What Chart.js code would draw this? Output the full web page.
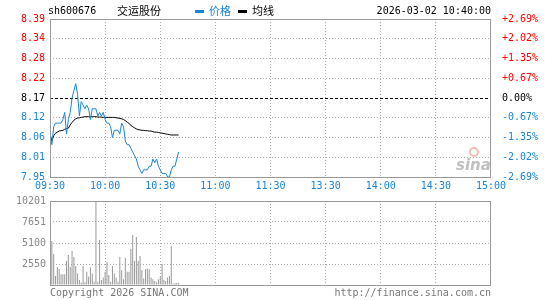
<!DOCTYPE html>
<html>
<head>
<meta charset="utf-8">
<script src="https://cdn.jsdelivr.net/npm/chart.js@4.4.1/dist/chart.umd.min.js"></script>
<style>
    html, body { margin: 0; padding: 0; background: #fff; }
    #wrap { position: relative; width: 545px; height: 300px; }
    #priceChart { position: absolute; left: 0; top: 0; }
    #volChart { position: absolute; left: 0; top: 190px; }
</style>
</head>
<body>
<div id="wrap">
    <canvas id="priceChart" width="545" height="195"></canvas>
    <canvas id="volChart" width="545" height="110"></canvas>
</div>
<script>
const prevClose = 8.17;
const timeTicks = [0, 30, 60, 90, 120, 150, 180, 210, 240];
const timeLabels = ['09:30', '10:00', '10:30', '11:00', '11:30', '13:30', '14:00', '14:30', '15:00'];
const priceTicks = [7.95, 8.005, 8.06, 8.115, 8.17, 8.225, 8.28, 8.335, 8.39];
const priceLabels = ['7.95', '8.01', '8.06', '8.12', '8.17', '8.22', '8.28', '8.34', '8.39'];
const pctLabels = ['-2.69%', '-2.02%', '-1.35%', '-0.67%', '0.00%', '+0.67%', '+1.35%', '+2.02%', '+2.69%'];
const volTicks = [0, 2550, 5100, 7651, 10201];
const volLabels = ['', '2550', '5100', '7651', '10201'];

// one value per minute from 09:30
const price = [
    8.07, 8.04, 8.09, 8.10, 8.10, 8.10, 8.10, 8.11, 8.13, 8.07,
    8.11, 8.13, 8.17, 8.19, 8.21, 8.18, 8.12, 8.16, 8.15, 8.14,
    8.15, 8.14, 8.11, 8.14, 8.14, 8.14, 8.12, 8.13, 8.12, 8.13,
    8.11, 8.10, 8.10, 8.09, 8.06, 8.08, 8.08, 8.08, 8.07, 8.10,
    8.09, 8.05, 8.04, 8.04, 8.03, 8.02, 8.01, 8.00, 7.98, 7.97,
    7.96, 7.97, 7.97, 7.97, 7.98, 7.98, 8.00, 7.99, 8.00, 7.98,
    7.97, 7.96, 7.96, 7.96, 7.95, 7.95, 7.97, 7.98, 7.98, 8.00,
    8.02
];
const avgPrice = [
    8.070, 8.050, 8.065, 8.072, 8.075, 8.078, 8.079, 8.080, 8.083, 8.085,
    8.086, 8.095, 8.102, 8.108, 8.112, 8.114, 8.115, 8.116, 8.117, 8.118,
    8.118, 8.118, 8.118, 8.118, 8.118, 8.118, 8.117, 8.117, 8.117, 8.116,
    8.116, 8.116, 8.116, 8.116, 8.116, 8.116, 8.115, 8.114, 8.113, 8.112,
    8.110, 8.107, 8.103, 8.099, 8.094, 8.090, 8.087, 8.084, 8.082, 8.081,
    8.080, 8.080, 8.079, 8.079, 8.078, 8.078, 8.076, 8.075, 8.075, 8.074,
    8.073, 8.072, 8.071, 8.070, 8.069, 8.068, 8.067, 8.067, 8.067, 8.067,
    8.067
];
const volume = [
    600, 5340, 3760, 1100, 2180, 1950, 1300, 1300, 1300, 2900,
    3640, 2180, 4130, 3400, 2300, 1400, 600, 300, 2300, 340,
    1600, 1000, 2150, 1400, 400, 10100, 400, 5460, 600, 900,
    1600, 2800, 1200, 400, 2300, 1400, 900, 400, 3400, 1800,
    700, 3280, 1600, 1600, 4370, 6070, 2900, 5830, 2900, 3520,
    1800, 800, 1900, 2000, 1900, 900, 700, 500, 340, 700,
    1000, 2550, 600, 500, 900, 1100, 4730, 150, 250, 250,
    250
];

const RED = '#ff0000';
const BLUE = '#1a84d4';
const GRAY = '#999';
const MONO = 'DejaVu Sans Mono';

function sideColor(i) {
    if (i > 4) return RED;
    if (i === 4) return '#000';
    return BLUE;
}

// plot frame, previous-close line and the header texts
const framePlugin = {
    id: 'frame',
    beforeDatasetsDraw(chart, args, opts) {
        if (!opts.midLine) return;
        const ctx = chart.ctx;
        const a = chart.chartArea;
        const y = Math.round(chart.scales.y.getPixelForValue(prevClose)) + 0.5;
        ctx.save();
        ctx.strokeStyle = '#000';
        ctx.lineWidth = 1;
        ctx.setLineDash([3, 2]);
        ctx.beginPath();
        ctx.moveTo(a.left, y);
        ctx.lineTo(a.right, y);
        ctx.stroke();
        ctx.restore();
    },
    afterDatasetsDraw(chart) {
        const ctx = chart.ctx;
        const a = chart.chartArea;
        ctx.save();
        ctx.strokeStyle = GRAY;
        ctx.lineWidth = 1;
        ctx.strokeRect(a.left + 0.5, a.top + 0.5, a.right - a.left - 1, a.bottom - a.top);
        ctx.restore();
    },
    afterDraw(chart, args, opts) {
        const ctx = chart.ctx;
        ctx.save();
        if (opts.header) {
            ctx.textBaseline = 'middle';
            ctx.font = '10px "' + MONO + '"';
            ctx.fillStyle = '#000';
            ctx.textAlign = 'left';
            ctx.fillText('sh600676', 48, 11);
            ctx.textAlign = 'right';
            ctx.fillText('2026-03-02 10:40:00', 491, 11);
            ctx.textAlign = 'left';
            ctx.font = '11px "Noto Sans CJK SC"';
            ctx.fillText('交运股份', 117, 11);
            ctx.fillStyle = BLUE;
            ctx.fillRect(195, 10, 9, 3);
            ctx.fillText('价格', 209, 11);
            ctx.fillStyle = '#000';
            ctx.fillRect(238, 10, 9, 3);
            ctx.fillText('均线', 252, 11);
            // sina watermark
            ctx.strokeStyle = 'rgba(235,120,120,0.5)';
            ctx.lineWidth = 2;
            ctx.beginPath();
            ctx.arc(474, 152, 4, 0, Math.PI * 2);
            ctx.stroke();
            ctx.font = 'italic bold 15px "DejaVu Sans"';
            ctx.fillStyle = 'rgba(150,150,150,0.6)';
            ctx.fillText('sina', 456, 166);
        }
        if (opts.footer) {
            ctx.textBaseline = 'middle';
            ctx.font = '10px "' + MONO + '"';
            ctx.fillStyle = '#777';
            ctx.textAlign = 'left';
            ctx.fillText('Copyright 2026 SINA.COM', 50, 103);
            ctx.textAlign = 'right';
            ctx.fillText('http://finance.sina.com.cn', 491, 103);
        }
        ctx.restore();
    }
};

const tickFont = { family: MONO, size: 10 };

const xScale = (showLabels) => ({
    type: 'linear',
    min: 0,
    max: 240,
    offset: false,
    afterBuildTicks: s => { s.ticks = timeTicks.map(v => ({ value: v })); },
    afterFit: s => { s.height = showLabels ? 18 : 0; },
    ticks: {
        display: showLabels,
        autoSkip: false,
        maxRotation: 0,
        padding: 3,
        color: BLUE,
        font: tickFont,
        callback: (v, i) => timeLabels[i]
    },
    grid: {
        offset: false,
        drawTicks: false,
        lineWidth: 1,
        color: c => (c.index === 0 || c.index === timeTicks.length - 1) ? 'rgba(0,0,0,0)' : '#aaa'
    },
    border: { display: false, dash: [1, 2] }
});

new Chart(document.getElementById('priceChart'), {
    type: 'line',
    data: {
        datasets: [{
            label: '价格',
            data: price.map((v, i) => ({ x: i, y: v })),
            borderColor: BLUE,
            borderWidth: 1,
            pointRadius: 0,
            tension: 0
        }, {
            label: '均线',
            data: avgPrice.map((v, i) => ({ x: i, y: v })),
            borderColor: '#000',
            borderWidth: 1,
            pointRadius: 0,
            tension: 0
        }]
    },
    options: {
        responsive: false,
        animation: false,
        layout: { padding: { top: 19, left: 0, right: 0, bottom: 0 } },
        scales: {
            x: xScale(true),
            y: {
                position: 'left',
                min: priceTicks[0],
                max: priceTicks[priceTicks.length - 1],
                afterBuildTicks: s => { s.ticks = priceTicks.map(v => ({ value: v })); },
                afterFit: s => { s.width = 50; },
                ticks: {
                    padding: 5,
                    font: tickFont,
                    color: c => sideColor(c.index),
                    callback: (v, i) => priceLabels[i]
                },
                grid: {
                    drawTicks: false,
                    color: c => (c.index === 0 || c.index === 4 || c.index === 8) ? 'rgba(0,0,0,0)' : '#aaa'
                },
                border: { display: false, dash: [1, 2] }
            },
            y2: {
                position: 'right',
                min: priceTicks[0],
                max: priceTicks[priceTicks.length - 1],
                afterBuildTicks: s => { s.ticks = priceTicks.map(v => ({ value: v })); },
                afterFit: s => { s.width = 54; },
                ticks: {
                    padding: 3,
                    font: tickFont,
                    color: c => sideColor(c.index),
                    callback: (v, i) => pctLabels[i]
                },
                grid: { display: false },
                border: { display: false }
            }
        },
        plugins: {
            legend: { display: false },
            tooltip: { enabled: false },
            frame: { header: true, midLine: true }
        }
    },
    plugins: [framePlugin]
});

new Chart(document.getElementById('volChart'), {
    type: 'bar',
    data: {
        datasets: [{
            data: volume.map((v, i) => ({ x: i, y: v })),
            backgroundColor: '#999',
            barThickness: 1,
            inflateAmount: 0
        }]
    },
    options: {
        responsive: false,
        animation: false,
        layout: { padding: { top: 11, left: 0, right: 54, bottom: 15 } },
        scales: {
            x: xScale(false),
            y: {
                position: 'left',
                min: 0,
                max: volTicks[volTicks.length - 1],
                afterBuildTicks: s => { s.ticks = volTicks.map(v => ({ value: v })); },
                afterFit: s => { s.width = 50; },
                ticks: {
                    padding: 4,
                    font: tickFont,
                    color: '#888',
                    callback: (v, i) => volLabels[i]
                },
                grid: {
                    drawTicks: false,
                    color: c => (c.index === 0 || c.index === volTicks.length - 1) ? 'rgba(0,0,0,0)' : '#aaa'
                },
                border: { display: false, dash: [1, 2] }
            }
        },
        plugins: {
            legend: { display: false },
            tooltip: { enabled: false },
            frame: { footer: true }
        }
    },
    plugins: [framePlugin]
});
</script>
</body>
</html>
